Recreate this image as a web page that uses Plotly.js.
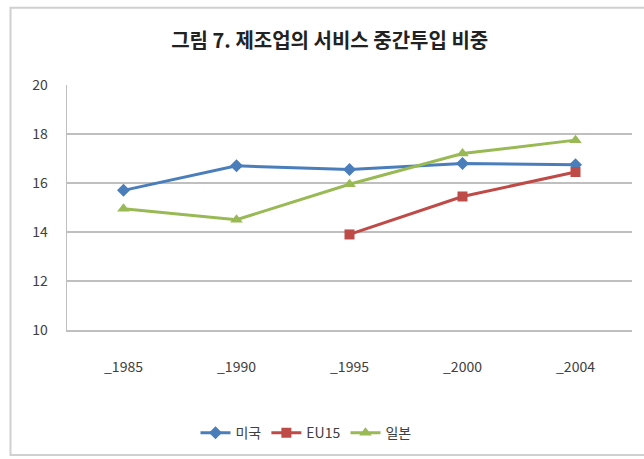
<!DOCTYPE html>
<html><head><meta charset="utf-8">
<script src="https://cdn.plot.ly/plotly-3.0.1.min.js"></script>
<style>html,body{margin:0;padding:0;background:#fff;}#c{width:644px;height:459px;}</style>
</head><body><div id="c"></div>
<script>
const categories = ['_1985', '_1990', '_1995', '_2000', '_2004'];
const usValues = [15.7, 16.7, 16.55, 16.8, 16.75];
const eu15Values = [null, null, 13.9, 15.45, 16.45];
const japanValues = [14.95, 14.5, 15.95, 17.2, 17.75];
const seriesNames = ['미국', 'EU15', '일본'];
const yTicks = [10, 12, 14, 16, 18, 20];

const font = '"Noto Sans CJK KR", "Noto Sans", sans-serif';
const traces = [
  {x: categories, y: usValues, name: seriesNames[0], type: 'scatter', mode: 'lines+markers',
   line: {color: '#4a7ebb', width: 3}, marker: {symbol: 'diamond', size: 10, color: '#4a7ebb'}},
  {x: categories, y: eu15Values, name: seriesNames[1], type: 'scatter', mode: 'lines+markers',
   line: {color: '#be4b48', width: 3}, marker: {symbol: 'square', size: 10, color: '#be4b48'}},
  {x: categories, y: japanValues, name: seriesNames[2], type: 'scatter', mode: 'lines+markers',
   line: {color: '#98b954', width: 3}, marker: {symbol: 'triangle-up', size: 11, color: '#98b954'}}
];
const layout = {
  width: 644, height: 459,
  margin: {l: 67, r: 12, t: 85, b: 128},
  paper_bgcolor: '#fff', plot_bgcolor: '#fff',
  font: {family: font, size: 13, color: '#404040'},
  title: {text: '<b>그림 7. 제조업의 서비스 중간투입 비중</b>', x: 0.512, xanchor: 'center', y: 0.911, yanchor: 'middle',
          font: {family: font, size: 20, color: '#222'}},
  xaxis: {type: 'category', range: [-0.5, 4.5], showgrid: false, showline: true, linecolor: '#bfbfbf', linewidth: 1.5,
          ticks: '', ticklabelstandoff: 24, tickfont: {size: 14, color: '#404040'}, fixedrange: true, zeroline: false},
  yaxis: {range: [10, 20], tickvals: yTicks, showgrid: true, gridcolor: '#bfbfbf', gridwidth: 1.5,
          showline: true, linecolor: '#bfbfbf', linewidth: 1.5, ticks: '', ticklabelstandoff: 15,
          tickfont: {size: 14, color: '#404040'}, zeroline: false, fixedrange: true},
  showlegend: true,
  legend: {orientation: 'h', x: 0.423, xanchor: 'center', y: -0.415, yanchor: 'middle',
           font: {family: font, size: 14, color: '#404040'}, itemwidth: 30, tracegroupgap: 0},
  shapes: [
    {type: 'rect', xref: 'paper', yref: 'paper', x0: -0.1, x1: 1.05, y0: -0.51, y1: 1.315,
     line: {color: '#d0d0d0', width: 2}, fillcolor: 'rgba(0,0,0,0)', layer: 'below'}
  ]
};
Plotly.newPlot('c', traces, layout, {displayModeBar: false, staticPlot: true});
</script></body></html>
